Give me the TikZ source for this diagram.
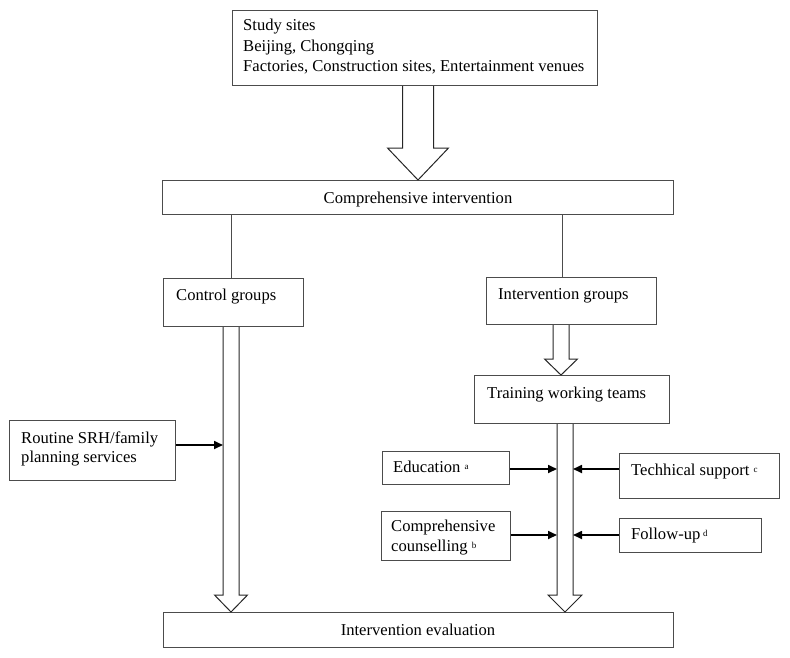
\documentclass[tikz,border=0pt]{standalone}
\usepackage{fontspec}
\setmainfont{Liberation Serif}
\usetikzlibrary{arrows.meta,calc}
\tikzset{
  box/.style={draw=black!70, line width=1.1pt, rectangle, inner sep=0pt, fill=white},
  txt/.style={inner sep=0pt, font=\fontsize{16.6}{20}\selectfont, text=black},
  hol/.style={draw=black!85, line width=1pt, line join=miter},
  ln/.style={draw=black!70, line width=1pt},
  arr/.style={draw=black, line width=1.7pt, -{Triangle[length=9pt,width=8pt]}}
}
\newcommand{\sups}[1]{\raisebox{0.35ex}{\fontsize{9}{10}\selectfont #1}}
\newcommand{\mkbox}[5]{% name, x1, y1, x2, y2
  \node[box, anchor=north west, minimum width={(#4-#2)*1pt}, minimum height={(#5-#3)*1pt}] (#1) at (#2,#3) {};}
\newcommand{\hollow}[6]{% from, to, cx, shaft half, head half, head length
  \draw[hol] let \p1=(#1.south), \p2=(#2.north) in
    ({#3pt-#4pt},\y1) -- ({#3pt-#4pt},{\y2+#6pt}) -- ({#3pt-#5pt},{\y2+#6pt})
    -- (#3pt,\y2) -- ({#3pt+#5pt},{\y2+#6pt}) -- ({#3pt+#4pt},{\y2+#6pt})
    -- ({#3pt+#4pt},\y1);}
\begin{document}
\begin{tikzpicture}[x=1pt,y=-1pt]
\useasboundingbox (0,0) rectangle (790,657);
% boxes
\mkbox{top}{232}{10}{597}{85}
\mkbox{comp}{162}{180}{673}{214}
\mkbox{ctrl}{163}{278}{303}{326}
\mkbox{ig}{486}{277}{656}{324}
\mkbox{train}{474}{375}{669}{423}
\mkbox{routine}{9}{420}{175}{480}
\mkbox{edu}{382}{451}{509}{484}
\mkbox{tech}{619}{453}{779}{498}
\mkbox{cc}{381}{511}{510}{560}
\mkbox{fu}{619}{518}{761}{552}
\mkbox{eval}{163}{612}{673}{647}
% texts
\node[txt, anchor=base west] (t1) at (243,30) {Study sites};
\node[txt, anchor=base west] (t2) at (243,51) {Beijing, Chongqing};
\node[txt, anchor=base west] (t3) at (243,71) {Factories, Construction sites, Entertainment venues};
\node[txt, anchor=base] (t4) at (418,203) {Comprehensive intervention};
\node[txt, anchor=base west] (t5) at (176,300) {Control groups};
\node[txt, anchor=base west] (t6) at (498,299) {Intervention groups};
\node[txt, anchor=base west] (t7) at (487,398) {Training working teams};
\node[txt, anchor=base west] (t8) at (21,443) {Routine SRH/family};
\node[txt, anchor=base west] (t9) at (21,462) {planning services};
\node[txt, anchor=base west] (t10) at (393,472) {Education \sups{a}};
\node[txt, anchor=base west] (t11) at (631,475) {Techhical support \sups{c}};
\node[txt, anchor=base west] (t12) at (391,531) {Comprehensive};
\node[txt, anchor=base west] (t13) at (391,551) {counselling \sups{b}};
\node[txt, anchor=base west] (t14) at (631,539) {Follow-up\,\sups{d}};
\node[txt, anchor=base] (t15) at (418,635) {Intervention evaluation};
% hollow arrows
\hollow{top}{comp}{418}{15.5}{30.5}{32}
\hollow{ctrl}{eval}{231}{8}{16.5}{17}
\hollow{ig}{train}{561}{8}{16.5}{16}
\hollow{train}{eval}{565}{8}{17}{17}
% plain lines
\draw[ln] let \p1=(comp.south), \p2=(ctrl.north) in (231pt,\y1) -- (231pt,\y2);
\draw[ln] let \p1=(comp.south), \p2=(ig.north) in (562pt,\y1) -- (562pt,\y2);
% shaft targets
\coordinate (cshaft) at (223,445);
\coordinate (tl1) at (557,469);
\coordinate (tr1) at (573,469);
\coordinate (tl2) at (557,535);
\coordinate (tr2) at (573,535);
% solid arrows
\draw[arr] (routine.east |- cshaft) -- (cshaft);
\draw[arr] (edu.east |- tl1) -- (tl1);
\draw[arr] (tech.west |- tr1) -- (tr1);
\draw[arr] (cc.east |- tl2) -- (tl2);
\draw[arr] (fu.west |- tr2) -- (tr2);
\end{tikzpicture}
\end{document}
